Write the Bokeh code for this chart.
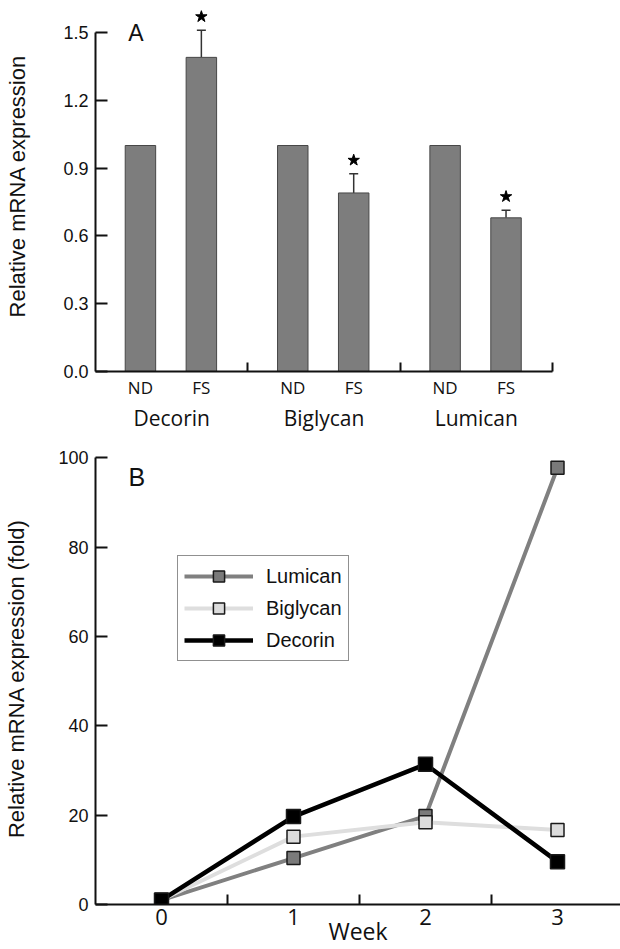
from bokeh.plotting import figure
from bokeh.models import (Range1d, FixedTicker, PrintfTickFormatter, LinearAxis,
                          ColumnDataSource, Whisker, TeeHead, Label, Legend,
                          LegendItem, CustomJSTickFormatter)
from bokeh.layouts import column
from bokeh.embed import file_html
from bokeh.resources import INLINE

# ---------------- data ----------------
genes = ["Decorin", "Biglycan", "Lumican"]
conditions = ["ND", "FS"]
nd_values = [1.0, 1.0, 1.0]
fs_values = [1.39, 0.79, 0.68]
fs_errors = [0.12, 0.085, 0.034]
a_y_ticks = [0.0, 0.3, 0.6, 0.9, 1.2, 1.5]

weeks = [0, 1, 2, 3]
lumican = [1.0, 10.4, 19.8, 97.8]
biglycan = [1.0, 15.2, 18.4, 16.7]
decorin = [1.0, 19.7, 31.4, 9.6]
b_y_ticks = [0, 20, 40, 60, 80, 100]
b_week_label = "Week"

# ---------------- styles ----------------
NUM_FONT = "Liberation Sans"
HUM_FONT = "Open Sans"
AX = "#111111"
BAR_FILL = "#7d7d7d"
BAR_LINE = "#474747"
ND_OFF, FS_OFF, BAR_W = 0.295, 0.695, 0.2
STAR_GAP = 0.06
W = 620
LEFT = 95
FRAME_W = W - LEFT

# ================= Panel A =================
A_UNIT_X = 152.33   # px per group
A_UNIT_Y = 226.0    # px per 1.0
A_H = 440
A_FRAME_H = 371
pA = figure(width=W, height=A_H, output_backend="svg", toolbar_location=None,
            x_range=Range1d(0, FRAME_W / A_UNIT_X),
            y_range=Range1d(0, A_FRAME_H / A_UNIT_Y),
            min_border_left=LEFT, min_border_right=0, min_border_top=0,
            min_border_bottom=A_H - A_FRAME_H)
pA.outline_line_color = None
pA.xgrid.visible = False
pA.ygrid.visible = False

nd_x = [i + ND_OFF for i in range(len(genes))]
fs_x = [i + FS_OFF for i in range(len(genes))]
pA.vbar(x=nd_x, top=nd_values, width=BAR_W, fill_color=BAR_FILL,
        line_color=BAR_LINE, line_width=1)
pA.vbar(x=fs_x, top=fs_values, width=BAR_W, fill_color=BAR_FILL,
        line_color=BAR_LINE, line_width=1)

err_src = ColumnDataSource(dict(x=fs_x, lower=fs_values,
                                upper=[v + e for v, e in zip(fs_values, fs_errors)]))
pA.add_layout(Whisker(source=err_src, base="x", lower="lower", upper="upper",
                      dimension="height", lower_head=None,
                      upper_head=TeeHead(size=9, line_color="#333333", line_width=1.5),
                      line_color="#333333", line_width=1.5))
pA.scatter(x=fs_x, y=[v + e + STAR_GAP for v, e in zip(fs_values, fs_errors)],
           marker="star", size=12, color="black")

bar_ticks = sorted(nd_x + fs_x)
cond_labels = [c for _ in genes for c in conditions]
xa = pA.xaxis[0]
xa.ticker = FixedTicker(ticks=bar_ticks, minor_ticks=[1, 2, 3])
xa.formatter = CustomJSTickFormatter(args=dict(labels=cond_labels),
                                     code="return labels[index];")
xa.bounds = (0, len(genes))
xa.major_tick_line_color = None
xa.major_tick_in = 0
xa.major_tick_out = 0
xa.minor_tick_in = 9
xa.minor_tick_out = 0
xa.minor_tick_line_width = 2
xa.minor_tick_line_color = AX
xa.axis_line_width = 2
xa.axis_line_color = AX
xa.major_label_text_font = HUM_FONT
xa.major_label_text_font_size = "17px"
xa.major_label_text_color = "#111111"
xa.major_label_standoff = 4

xg = LinearAxis(ticker=FixedTicker(ticks=[i + 0.5 for i in range(len(genes))]),
                formatter=CustomJSTickFormatter(args=dict(labels=genes),
                                                code="return labels[index];"))
xg.axis_line_color = None
xg.major_tick_line_color = None
xg.minor_tick_line_color = None
xg.major_tick_in = 0
xg.major_tick_out = 0
xg.major_label_text_font = HUM_FONT
xg.major_label_text_font_size = "21px"
xg.major_label_text_color = "#111111"
xg.major_label_standoff = 2
pA.add_layout(xg, "below")

ya = pA.yaxis[0]
ya.ticker = FixedTicker(ticks=a_y_ticks)
ya.formatter = PrintfTickFormatter(format="%.1f")
ya.bounds = (a_y_ticks[0], a_y_ticks[-1])
ya.major_tick_in = 12
ya.major_tick_out = 0
ya.minor_tick_line_color = None
ya.major_tick_line_width = 2
ya.major_tick_line_color = AX
ya.axis_line_width = 2
ya.axis_line_color = AX
ya.major_label_text_font = NUM_FONT
ya.major_label_text_font_size = "18px"
ya.major_label_text_color = "#111111"
ya.major_label_standoff = 7
ya.axis_label = "Relative mRNA expression"
ya.axis_label_text_font = NUM_FONT
ya.axis_label_text_font_size = "22px"
ya.axis_label_text_font_style = "normal"
ya.axis_label_text_color = "#111111"
ya.axis_label_standoff = 30

pA.add_layout(Label(x=0.215, y=1.5, text="A", text_font=NUM_FONT,
                    text_font_size="23px", text_baseline="middle",
                    text_color="#111111"))

# ================= Panel B =================
B_UNIT_X = 132.0
B_UNIT_Y = 4.485
B_H = 509
B_TOP = 12
B_FRAME_H = 454
pB = figure(width=W, height=B_H, output_backend="svg", toolbar_location=None,
            x_range=Range1d(-0.5, -0.5 + FRAME_W / B_UNIT_X),
            y_range=Range1d(0, B_FRAME_H / B_UNIT_Y),
            min_border_left=LEFT, min_border_right=0, min_border_top=B_TOP,
            min_border_bottom=B_H - B_TOP - B_FRAME_H)
pB.outline_line_color = None
pB.xgrid.visible = False
pB.ygrid.visible = False

series = [
    ("Lumican", lumican, "#808080", 4, "#7a7a7a", 13),
    ("Biglycan", biglycan, "#dedede", 4, "#dcdcdc", 13),
    ("Decorin", decorin, "#000000", 4.5, "#000000", 14),
]
items = []
for name, vals, lc, lw, fc, sz in series:
    lr = pB.line(weeks, vals, line_color=lc, line_width=lw)
    sr = pB.scatter(weeks, vals, marker="square", size=sz, fill_color=fc,
                    line_color="#1a1a1a", line_width=1.5)
    items.append(LegendItem(label=name, renderers=[lr, sr]))

leg = Legend(items=items, location=(82, 243), glyph_width=69, glyph_height=28,
             label_height=28, spacing=4, padding=6, margin=0, label_standoff=13,
             label_text_font=NUM_FONT, label_text_font_size="20px",
             label_text_color="#111111", border_line_color="#222222",
             border_line_width=1, background_fill_color="white",
             background_fill_alpha=1)
pB.add_layout(leg, "center")

xb = pB.xaxis[0]
xb.ticker = FixedTicker(ticks=weeks, minor_ticks=[0.5, 1.5, 2.5])
xb.major_tick_line_color = None
xb.major_tick_in = 0
xb.major_tick_out = 0
xb.minor_tick_in = 10
xb.minor_tick_out = 0
xb.minor_tick_line_width = 2
xb.minor_tick_line_color = AX
xb.axis_line_width = 2
xb.axis_line_color = AX
xb.major_label_text_font = HUM_FONT
xb.major_label_text_font_size = "22px"
xb.major_label_text_color = "#111111"
xb.major_label_standoff = 4
xb.axis_label = b_week_label
xb.axis_label_text_font = HUM_FONT
xb.axis_label_text_font_size = "23px"
xb.axis_label_text_font_style = "normal"
xb.axis_label_text_color = "#111111"
xb.axis_label_standoff = -13

yb = pB.yaxis[0]
yb.ticker = FixedTicker(ticks=b_y_ticks)
yb.bounds = (b_y_ticks[0], b_y_ticks[-1])
yb.major_tick_in = 12
yb.major_tick_out = 0
yb.minor_tick_line_color = None
yb.major_tick_line_width = 2
yb.major_tick_line_color = AX
yb.axis_line_width = 2
yb.axis_line_color = AX
yb.major_label_text_font = NUM_FONT
yb.major_label_text_font_size = "18px"
yb.major_label_text_color = "#111111"
yb.major_label_standoff = 7
yb.axis_label = "Relative mRNA expression (fold)"
yb.axis_label_text_font = NUM_FONT
yb.axis_label_text_font_size = "22px"
yb.axis_label_text_font_style = "normal"
yb.axis_label_text_color = "#111111"
yb.axis_label_standoff = 26

pB.add_layout(Label(x=-0.25, y=95.8, text="B", text_font=NUM_FONT,
                    text_font_size="25px", text_baseline="middle",
                    text_color="#111111"))

layout = column(pA, pB, spacing=0)
open("out.html", "w").write(file_html(layout, INLINE))
